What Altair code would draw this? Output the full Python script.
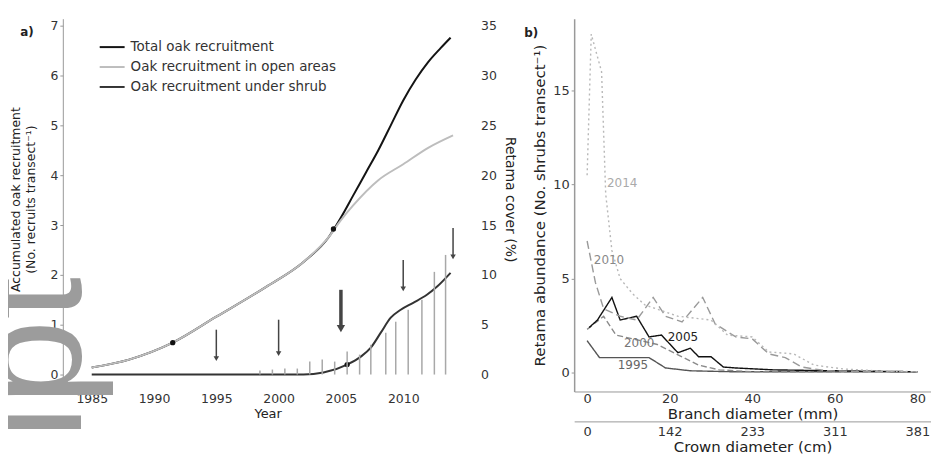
import altair as alt
import pandas as pd

FONT = "DejaVu Sans"

# ---------------- panel a) : oak recruitment & Retama cover ----------------
series_names = ["Total oak recruitment", "Oak recruitment in open areas", "Oak recruitment under shrub"]
series_colors = ["#141414", "#bdbdbd", "#333333"]

total_years = [1985, 1988, 1991.5, 1995, 1999, 2002, 2004, 2005, 2006, 2007, 2008, 2009, 2010, 2011, 2012, 2013, 2013.8]
total_vals = [0.14, 0.30, 0.64, 1.16, 1.76, 2.26, 2.75, 3.15, 3.60, 4.05, 4.50, 5.00, 5.50, 5.92, 6.27, 6.55, 6.76]
open_years = [1985, 1988, 1991.5, 1995, 1999, 2002, 2004, 2005, 2006, 2008, 2010, 2012, 2014]
open_vals = [0.14, 0.30, 0.64, 1.16, 1.76, 2.26, 2.75, 3.10, 3.40, 3.90, 4.22, 4.55, 4.80]
shrub_years = [1985, 2002, 2003.6, 2005.5, 2006.6, 2007.4, 2008.2, 2009, 2009.8, 2010.8, 2011.9, 2012.7, 2013.8]
shrub_vals = [0, 0, 0.04, 0.20, 0.36, 0.54, 0.84, 1.14, 1.30, 1.44, 1.60, 1.76, 2.04]

dot_years = [1991.5, 2004.4, 2005.5]
dot_vals = [0.64, 2.92, 0.20]

cover_years = [1998.5, 1999.5, 2000.5, 2001.5, 2002.5, 2003.5, 2004.5, 2005.5, 2006.5,
               2007.4, 2008.6, 2009.4, 2010.4, 2011.5, 2012.5, 2013.4]
cover_vals = [0.4, 0.5, 0.6, 0.6, 1.3, 1.5, 1.3, 2.3, 2.0, 3.0, 4.2, 5.3, 6.5, 7.5, 10.3, 12.0]

arrow_years = [1995, 2000, 2005, 2010, 2014]
arrow_top = [4.5, 5.5, 8.5, 11.5, 14.7]
arrow_bottom = [1.6, 2.1, 4.6, 8.6, 11.8]
arrow_width = [1.5, 1.5, 3.5, 1.5, 1.5]
arrow_head = [30, 30, 70, 30, 30]

year_ticks = [1985, 1990, 1995, 2000, 2005, 2010]
rec_ticks = [0, 1, 2, 3, 4, 5, 6, 7]
cover_ticks = [0, 5, 10, 15, 20, 25, 30, 35]

# ---------------- panel b) : Retama size structure ----------------
yr_names = ["1995", "2000", "2005", "2010", "2014"]
yr_colors = ["#555555", "#8a8a8a", "#111111", "#9a9a9a", "#b8b8b8"]
yr_dashes = [[1, 0], [6, 3], [1, 0], [8, 4], [2, 3]]
yr_widths = [1.4, 1.4, 1.8, 1.4, 1.6]

mm_1995 = [0, 3, 6, 10, 15, 19, 25, 35, 50, 65, 80]
ab_1995 = [1.7, 0.8, 0.8, 0.8, 0.8, 0.25, 0.1, 0.05, 0.05, 0.05, 0.05]
mm_2000 = [0, 4, 7, 12, 17, 22, 27, 32, 40, 50, 80]
ab_2000 = [2.3, 3.0, 2.0, 1.75, 1.5, 0.95, 0.4, 0.15, 0.05, 0.05, 0.05]
mm_2005 = [0.5, 2.5, 6, 8, 12, 15, 18, 22, 25, 27, 30, 33, 36, 45, 60, 80]
ab_2005 = [2.4, 2.8, 4.0, 2.8, 3.0, 1.9, 2.0, 1.06, 1.3, 0.85, 0.85, 0.3, 0.25, 0.15, 0.1, 0.05]
mm_2010 = [0, 2, 4, 8, 12, 16, 19, 23, 28, 31, 36, 40, 44, 48, 52, 58, 70, 80]
ab_2010 = [7.0, 4.8, 3.4, 3.0, 2.8, 4.0, 3.0, 2.7, 4.0, 2.6, 1.9, 1.8, 1.0, 0.8, 0.3, 0.1, 0.05, 0.05]
mm_2014 = [0, 1, 3.5, 4.5, 6, 8, 11, 14, 18, 22, 26, 30, 34, 40, 44, 50, 55, 62, 70, 80]
ab_2014 = [10.5, 18, 16, 9.5, 6.5, 5.0, 4.2, 3.6, 3.3, 3.0, 2.9, 2.8, 2.0, 1.9, 1.1, 1.0, 0.4, 0.2, 0.1, 0.05]

lab_text = ["2014", "2010", "2005", "2000", "1995"]
lab_mm = [8.5, 5.3, 23.2, 12.6, 11.1]
lab_val = [10.1, 6.0, 1.9, 1.6, 0.43]
lab_colors = ["#aaaaaa", "#888888", "#222222", "#777777", "#666666"]

branch_ticks = [0, 20, 40, 60, 80]
crown_labels = ["0", "142", "233", "311", "381"]
abund_ticks = [0, 5, 10, 15]

# watermark fragment visible at the left edge of the page
watermark_text = ["ipt"]

# ---------------- data frames ----------------
rec_rows = []
for name, ys, vs in zip(series_names, [total_years, open_years, shrub_years], [total_vals, open_vals, shrub_vals]):
    for y, v in zip(ys, vs):
        rec_rows.append({"series": name, "year": y, "value": v})
rec_df = pd.DataFrame(rec_rows)
dot_df = pd.DataFrame({"year": dot_years, "value": dot_vals})
cov_df = pd.DataFrame({"year": cover_years, "cover": cover_vals})
arr_df = pd.DataFrame({"year": arrow_years, "top": arrow_top, "bottom": arrow_bottom,
                       "w": arrow_width, "s": arrow_head})

b_rows = []
for name, ms, vs in zip(yr_names, [mm_1995, mm_2000, mm_2005, mm_2010, mm_2014],
                        [ab_1995, ab_2000, ab_2005, ab_2010, ab_2014]):
    for m, v in zip(ms, vs):
        b_rows.append({"yr": name, "mm": m, "val": v})
b_df = pd.DataFrame(b_rows)
lab_df = pd.DataFrame({"t": lab_text, "mm": lab_mm, "val": lab_val, "c": lab_colors})
one = pd.DataFrame({"k": [0]})
wm_df = pd.DataFrame({"t": watermark_text})

# ---------------- panel a) chart ----------------
W1, H1 = 411, 362
xyear = alt.Scale(domain=[1982.68, 2015.56], nice=False, zero=False)
yrec = alt.Scale(domain=[-0.1, 7.14], nice=False, zero=False)
ycov = alt.Scale(domain=[-0.5, 35.7], nice=False, zero=False)

x_year_axis = alt.Axis(values=year_ticks, format="d", title="Year", domain=False, ticks=False,
                       labelPadding=13, titlePadding=3, labelFontSize=12.5, titleFontSize=13,
                       titleFontWeight="normal")
y_rec_axis = alt.Axis(values=rec_ticks, title=["Accumulated oak recruitment", "(No. recruits transect⁻¹)"],
                      tickSize=3, labelPadding=2, titlePadding=12, labelFontSize=12.5, titleFontSize=12.5,
                      titleFontWeight="normal", titleLineHeight=16, domainColor="#999999")
y_cov_axis = alt.Axis(orient="right", values=cover_ticks, title="Retama cover (%)", domain=False,
                      ticks=False, labelPadding=8, titlePadding=6, labelFontSize=12.5, titleFontSize=14,
                      titleFontWeight="normal")

color_rec = alt.Color("series:N", scale=alt.Scale(domain=series_names, range=series_colors),
                      legend=alt.Legend(orient="none", legendX=36, legendY=15, title=None,
                                        symbolType="stroke", symbolSize=625, symbolStrokeWidth=2,
                                        labelFontSize=13.5, labelColor="#333333", rowPadding=-2,
                                        labelOffset=5, padding=0, labelLimit=0))


def rec_line(name):
    return alt.Chart(rec_df).transform_filter(alt.datum.series == name).mark_line(
        strokeWidth=2, interpolate="monotone").encode(
        x=alt.X("year:Q", scale=xyear, axis=x_year_axis),
        y=alt.Y("value:Q", scale=yrec, axis=y_rec_axis),
        color=color_rec,
    )


watermark = alt.Chart(wm_df).mark_text(fontSize=154, font="Liberation Sans", color="#9c9c9c",
                                       angle=270, align="left", baseline="alphabetic").encode(
    text="t:N", x=alt.value(18), y=alt.value(422))

dots = alt.Chart(dot_df).mark_circle(size=28, color="#111111", opacity=1).encode(
    x=alt.X("year:Q", scale=xyear, axis=x_year_axis),
    y=alt.Y("value:Q", scale=yrec, axis=y_rec_axis),
)
a_label = alt.Chart(one).mark_text(text="a)", fontSize=12, fontWeight="bold", color="#222222",
                                   font=FONT).encode(x=alt.value(-36), y=alt.value(13))

rec_group = alt.layer(watermark, rec_line(series_names[0]), rec_line(series_names[1]),
                      rec_line(series_names[2]), dots, a_label)

bars = alt.Chart(cov_df).mark_rule(color="#a8a8a8", strokeWidth=1.5).encode(
    x=alt.X("year:Q", scale=xyear, axis=x_year_axis),
    y=alt.Y("cover:Q", scale=ycov, axis=y_cov_axis),
    y2=alt.datum(0),
)
arrows = alt.Chart(arr_df).mark_rule(color="#444444").encode(
    x=alt.X("year:Q", scale=xyear, axis=x_year_axis),
    y=alt.Y("top:Q", scale=ycov, axis=y_cov_axis),
    y2="bottom:Q",
    strokeWidth=alt.StrokeWidth("w:Q", scale=None),
)
heads = alt.Chart(arr_df).mark_point(shape="triangle-down", filled=True, color="#444444", opacity=1).encode(
    x=alt.X("year:Q", scale=xyear, axis=x_year_axis),
    y=alt.Y("bottom:Q", scale=ycov, axis=y_cov_axis),
    size=alt.Size("s:Q", scale=None),
)
cov_group = alt.layer(bars, arrows, heads)

left = alt.layer(rec_group, cov_group).resolve_scale(y="independent").properties(width=W1, height=H1)

# ---------------- panel b) chart ----------------
W2, H2 = 358, 374
xb = alt.Scale(domain=[-3.14, 83.3], nice=False, zero=False)
yb = alt.Scale(domain=[-1.0, 18.82], nice=False, zero=False)

crown_expr = ""
for t, lab in zip(branch_ticks, crown_labels):
    crown_expr += f"datum.value == {t} ? '{lab}' : "
crown_expr += "''"

branch_axis = alt.Axis(orient="bottom", values=branch_ticks, title="Branch diameter (mm)", ticks=False,
                       labelPadding=1, titlePadding=1, labelFontSize=13, titleFontSize=15,
                       titleFontWeight="normal", domainColor="#999999")
crown_axis = alt.Axis(orient="bottom", offset=30, values=branch_ticks, labelExpr=crown_expr,
                      title="Crown diameter (cm)", ticks=False, labelPadding=4, titlePadding=1,
                      labelFontSize=13, titleFontSize=15, titleFontWeight="normal",
                      domainColor="#999999")
abund_axis = alt.Axis(values=abund_ticks, title="Retama abundance (No. shrubs transect⁻¹)",
                      tickSize=3, labelPadding=2, titlePadding=5, labelFontSize=13, titleFontSize=15,
                      titleFontWeight="normal", domainColor="#999999", domainWidth=1.5)

b_lines = alt.Chart(b_df).mark_line().encode(
    x=alt.X("mm:Q", scale=xb, axis=branch_axis),
    y=alt.Y("val:Q", scale=yb, axis=abund_axis),
    color=alt.Color("yr:N", scale=alt.Scale(domain=yr_names, range=yr_colors), legend=None),
    strokeDash=alt.StrokeDash("yr:N", scale=alt.Scale(domain=yr_names, range=yr_dashes), legend=None),
    strokeWidth=alt.StrokeWidth("yr:N", scale=alt.Scale(domain=yr_names, range=yr_widths), legend=None),
)
b_crown = alt.Chart(b_df).mark_line(opacity=0).encode(
    x=alt.X("mm:Q", scale=xb, axis=crown_axis),
    y=alt.Y("val:Q", scale=yb, axis=abund_axis),
    detail="yr:N",
)
b_labels = alt.Chart(lab_df).mark_text(fontSize=12, font=FONT).encode(
    x=alt.X("mm:Q", scale=xb, axis=None),
    y=alt.Y("val:Q", scale=yb, axis=abund_axis),
    text="t:N",
    color=alt.Color("c:N", scale=None),
)
b_label = alt.Chart(one).mark_text(text="b)", fontSize=12, fontWeight="bold", color="#222222",
                                   font=FONT).encode(x=alt.value(-43), y=alt.value(14))

right = alt.layer(b_lines, b_crown, b_labels, b_label).resolve_axis(x="independent").properties(
    width=W2, height=H2)

chart = alt.hconcat(left, right, spacing=102, bounds="flush").resolve_scale(
    color="independent", strokeDash="independent", strokeWidth="independent", size="independent"
).properties(
    padding={"left": -51, "top": 10, "right": 0, "bottom": 0}
).configure(font=FONT).configure_view(stroke=None).configure_axis(
    grid=False, labelColor="#333333", titleColor="#222222", domainColor="#999999", tickColor="#999999"
)

chart.save("out.html", embed_options={"renderer": "svg", "actions": False})
